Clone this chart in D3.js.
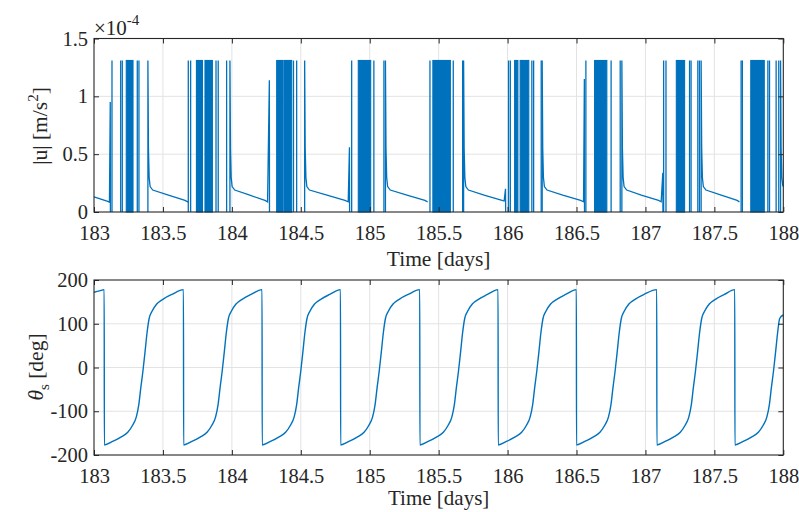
<!DOCTYPE html>
<html><head><meta charset="utf-8">
<script src="https://cdn.jsdelivr.net/npm/d3@7"></script>
<style>
body{margin:0;background:#fff}
svg{display:block}
text{font-family:"Liberation Serif","Times New Roman",serif;fill:#262626}
</style>
</head><body>
<svg id="c" width="799" height="512"></svg>
<script>
// ---------- data ----------
const xTicks = [183,183.5,184,184.5,185,185.5,186,186.5,187,187.5,188];
const xTickLabels = ["183","183.5","184","184.5","185","185.5","186","186.5","187","187.5","188"];
const uTicks = [0,0.5,1,1.5];
const uTickLabels = ["0","0.5","1","1.5"];
const thetaTicks = [-200,-100,0,100,200];
const thetaTickLabels = ["-200","-100","0","100","200"];
const uMax = 1.31; // saturation level (x1e-4 m/s^2)

// coast arcs of |u| (x1e-4), [day, value]
const uCoast = [
  [[183.000,0.13],[183.050,0.112],[183.100,0.092],[183.112,0.085],[183.118,0.95],[183.119,0]],
  [[183.391,0],[183.391,1.31],[183.395,0.55],[183.400,0.30],[183.407,0.22],[183.426,0.19],[183.54,0.145],[183.66,0.10],[183.684,0.085]],
  [[183.986,0],[183.986,1.31],[183.990,0.55],[183.995,0.30],[184.002,0.22],[184.021,0.19],[184.13,0.145],[184.24,0.10],[184.259,0.088],[184.272,1.14],[184.273,0]],
  [[184.528,0],[184.528,1.31],[184.532,0.55],[184.537,0.30],[184.544,0.22],[184.563,0.19],[184.69,0.145],[184.82,0.10],[184.844,0.088],[184.853,0.56],[184.854,0]],
  [[185.114,0],[185.114,1.31],[185.118,0.55],[185.123,0.30],[185.130,0.22],[185.149,0.19],[185.27,0.145],[185.40,0.10],[185.420,0.088]],
  [[185.681,0],[185.681,1.31],[185.685,0.55],[185.690,0.30],[185.697,0.22],[185.716,0.19],[185.83,0.145],[185.96,0.10],[185.975,0.095],[185.985,0.20],[185.986,0]],
  [[186.251,0],[186.251,1.31],[186.255,0.55],[186.260,0.30],[186.267,0.22],[186.286,0.19],[186.40,0.145],[186.53,0.10],[186.551,0.088],[186.557,1.15],[186.558,0]],
  [[186.829,0],[186.829,1.31],[186.833,0.55],[186.838,0.30],[186.845,0.22],[186.864,0.19],[186.97,0.145],[187.095,0.10],[187.114,0.088],[187.126,0.34],[187.127,0]],
  [[187.404,0],[187.404,1.31],[187.408,0.55],[187.413,0.30],[187.420,0.22],[187.439,0.19],[187.55,0.145],[187.665,0.10],[187.682,0.088]],
  [[187.980,0],[187.980,1.31],[187.984,0.55],[187.989,0.30],[187.996,0.23],[188.000,0.22]]
];

// single saturated thrust pulses (day)
const uPulses = [
  183.1305,183.1936,183.2052,183.314,183.326,
  183.684,183.701,183.885,183.901,183.962,
  184.447,184.470,
  184.869,185.030,185.103,
  185.437,185.606,185.674,
  186.007,186.020,186.176,186.189,186.244,
  186.568,186.751,186.817,
  187.132,187.149,187.320,187.331,187.380,187.392,
  187.694,187.703,187.888,187.900,187.948,187.967
];

// intervals of dense on/off switching (day start, day end)
const uBlocks = [
  [183.234,183.283],
  [183.743,183.787],[183.805,183.859],
  [184.325,184.371],[184.378,184.434],
  [184.917,185.007],
  [185.458,185.585],
  [186.051,186.075],[186.091,186.154],
  [186.631,186.720],
  [187.224,187.284],
  [187.764,187.862]
];

// theta_s [deg], [day, value]
const thetaSeries = [
  [183.000,172],[183.040,175],[183.074,178],
  [183.075,-177],[183.135,-169],[183.195,-159],[183.245,-148],[183.280,-132],[183.307,-113],[183.325,-85],[183.340,-45],[183.355,-8],[183.370,35],[183.385,80],[183.400,112],[183.420,128],[183.455,145],[183.505,157],[183.565,167],[183.649,178],
  [183.650,-177],[183.710,-169],[183.770,-159],[183.820,-148],[183.855,-132],[183.882,-113],[183.900,-85],[183.915,-45],[183.930,-8],[183.945,35],[183.960,80],[183.975,112],[183.995,128],[184.030,145],[184.080,157],[184.140,167],[184.219,178],
  [184.220,-177],[184.280,-169],[184.340,-159],[184.390,-148],[184.425,-132],[184.452,-113],[184.470,-85],[184.485,-45],[184.500,-8],[184.515,35],[184.530,80],[184.545,112],[184.565,128],[184.600,145],[184.650,157],[184.710,167],[184.788,178],
  [184.789,-177],[184.849,-169],[184.909,-159],[184.959,-148],[184.994,-132],[185.021,-113],[185.039,-85],[185.054,-45],[185.069,-8],[185.084,35],[185.099,80],[185.114,112],[185.134,128],[185.169,145],[185.219,157],[185.279,167],[185.363,178],
  [185.364,-177],[185.424,-169],[185.484,-159],[185.534,-148],[185.569,-132],[185.596,-113],[185.614,-85],[185.629,-45],[185.644,-8],[185.659,35],[185.674,80],[185.689,112],[185.709,128],[185.744,145],[185.794,157],[185.854,167],[185.931,178],
  [185.932,-177],[185.992,-169],[186.052,-159],[186.102,-148],[186.137,-132],[186.164,-113],[186.182,-85],[186.197,-45],[186.212,-8],[186.227,35],[186.242,80],[186.257,112],[186.277,128],[186.312,145],[186.362,157],[186.422,167],[186.499,178],
  [186.500,-177],[186.560,-169],[186.620,-159],[186.670,-148],[186.705,-132],[186.732,-113],[186.750,-85],[186.765,-45],[186.780,-8],[186.795,35],[186.810,80],[186.825,112],[186.845,128],[186.880,145],[186.930,157],[186.990,167],[187.082,178],
  [187.083,-177],[187.143,-169],[187.203,-159],[187.253,-148],[187.288,-132],[187.315,-113],[187.333,-85],[187.348,-45],[187.363,-8],[187.378,35],[187.393,80],[187.408,112],[187.428,128],[187.463,145],[187.513,157],[187.573,167],[187.648,178],
  [187.649,-177],[187.709,-169],[187.769,-159],[187.819,-148],[187.854,-132],[187.881,-113],[187.899,-85],[187.914,-45],[187.929,-8],[187.944,35],[187.959,80],[187.974,112],[188.000,120]
];

// ---------- drawing ----------
const LINE = "#0072BD", AX = "#262626", GRID = "#e3e3e3";
const FS = 20.5;
const svg = d3.select("#c");
const x = d3.scaleLinear().domain([183,188]).range([94,783.3]);

function panel(top, bottom, yDomain, yTicks){
  const y = d3.scaleLinear().domain(yDomain).range([bottom, top]);
  const g = svg.append("g");
  const grid = g.append("g");
  grid.selectAll("line.gx").data(xTicks.slice(1,-1)).join("line")
    .attr("x1", d=>x(d)).attr("x2", d=>x(d)).attr("y1", top).attr("y2", bottom)
    .attr("stroke", GRID).attr("stroke-width", 1);
  grid.selectAll("line.gy").data(yTicks.slice(1,-1)).join("line")
    .attr("y1", d=>y(d)).attr("y2", d=>y(d)).attr("x1", x.range()[0]).attr("x2", x.range()[1])
    .attr("stroke", GRID).attr("stroke-width", 1);
  const dataG = g.append("g");
  const axG = g.append("g");
  return {y, g, dataG, axG, top, bottom};
}

function axes(p, yTicks, yLabels){
  const {y, axG, top, bottom} = p;
  const ax = axG;
  const xb = ax.append("g").attr("transform", `translate(0,${bottom})`)
    .call(d3.axisBottom(x).tickValues(xTicks).tickFormat((d,i)=>xTickLabels[i]).tickSizeInner(-5).tickSizeOuter(0).tickPadding(13));
  const xt = ax.append("g").attr("transform", `translate(0,${top})`)
    .call(d3.axisTop(x).tickValues(xTicks).tickFormat("").tickSizeInner(-5).tickSizeOuter(0));
  const yl = ax.append("g").attr("transform", `translate(${x.range()[0]},0)`)
    .call(d3.axisLeft(y).tickValues(yTicks).tickFormat((d,i)=>yLabels[i]).tickSizeInner(-5).tickSizeOuter(0).tickPadding(6));
  const yr = ax.append("g").attr("transform", `translate(${x.range()[1]},0)`)
    .call(d3.axisRight(y).tickValues(yTicks).tickFormat("").tickSizeInner(-5).tickSizeOuter(0));
  [xb,xt,yl,yr].forEach(a=>{
    a.select(".domain").remove();
    a.selectAll(".tick line").attr("stroke", AX).attr("stroke-width", 1);
    a.selectAll(".tick text").attr("font-size", FS).attr("font-family", '"Liberation Serif",serif').attr("fill", AX);
  });
  ax.append("rect").attr("x", x.range()[0]).attr("y", top)
    .attr("width", x.range()[1]-x.range()[0]).attr("height", bottom-top)
    .attr("fill","none").attr("stroke", AX).attr("stroke-width", 1.1);
}

// ---- top panel ----
const P1 = panel(38.5, 212, [0,1.5], uTicks);
const y1 = P1.y;
P1.dataG.selectAll("rect.blk").data(uBlocks).join("rect")
  .attr("x", d=>x(d[0])).attr("width", d=>x(d[1])-x(d[0]))
  .attr("y", y1(uMax)).attr("height", y1(0)-y1(uMax))
  .attr("fill", LINE).attr("stroke", LINE).attr("stroke-width", 1.1);
P1.dataG.selectAll("line.pl").data(uPulses).join("line")
  .attr("x1", d=>x(d)).attr("x2", d=>x(d)).attr("y1", y1(0)).attr("y2", y1(uMax))
  .attr("stroke", LINE).attr("stroke-width", 1.3);
const lineU = d3.line().x(d=>x(d[0])).y(d=>y1(d[1]));
P1.dataG.selectAll("path.co").data(uCoast).join("path")
  .attr("d", lineU).attr("fill","none").attr("stroke", LINE).attr("stroke-width", 1.3);
axes(P1, uTicks, uTickLabels);

// exponent label
const ex = svg.append("text").attr("x", 94).attr("y", 35).attr("font-size", 21);
ex.append("tspan").text("×10");
ex.append("tspan").attr("dy", -10).attr("font-size", 15).text("-4");

// top y-label
const yl1 = svg.append("text").attr("transform", "translate(47,126) rotate(-90)")
  .attr("text-anchor","middle").attr("font-size", 21.5);
yl1.append("tspan").text("|u| [m/s");
yl1.append("tspan").attr("dy", -9).attr("font-size", 15).text("2");
yl1.append("tspan").attr("dy", 9).text("]");

svg.append("text").attr("x", (x.range()[0]+x.range()[1])/2).attr("y", 266)
  .attr("text-anchor","middle").attr("font-size", 21.5).text("Time [days]");

// ---- bottom panel ----
const P2 = panel(280, 455, [-200,200], thetaTicks);
const y2 = P2.y;
P2.dataG.append("path").datum(thetaSeries)
  .attr("d", d3.line().x(d=>x(d[0])).y(d=>y2(d[1])).curve(d3.curveMonotoneX))
  .attr("fill","none").attr("stroke", LINE).attr("stroke-width", 1.4);
axes(P2, thetaTicks, thetaTickLabels);

const yl2 = svg.append("text").attr("transform", "translate(43,367) rotate(-90)")
  .attr("text-anchor","middle").attr("font-size", 21.5);
yl2.append("tspan").attr("font-style","italic").text("θ");
yl2.append("tspan").attr("dy", 6).attr("font-size", 15).text("s");
yl2.append("tspan").attr("dy", -6).text(" [deg]");

svg.append("text").attr("x", (x.range()[0]+x.range()[1])/2).attr("y", 505)
  .attr("text-anchor","middle").attr("font-size", 21).text("Time [days]");
</script>
</body></html>
